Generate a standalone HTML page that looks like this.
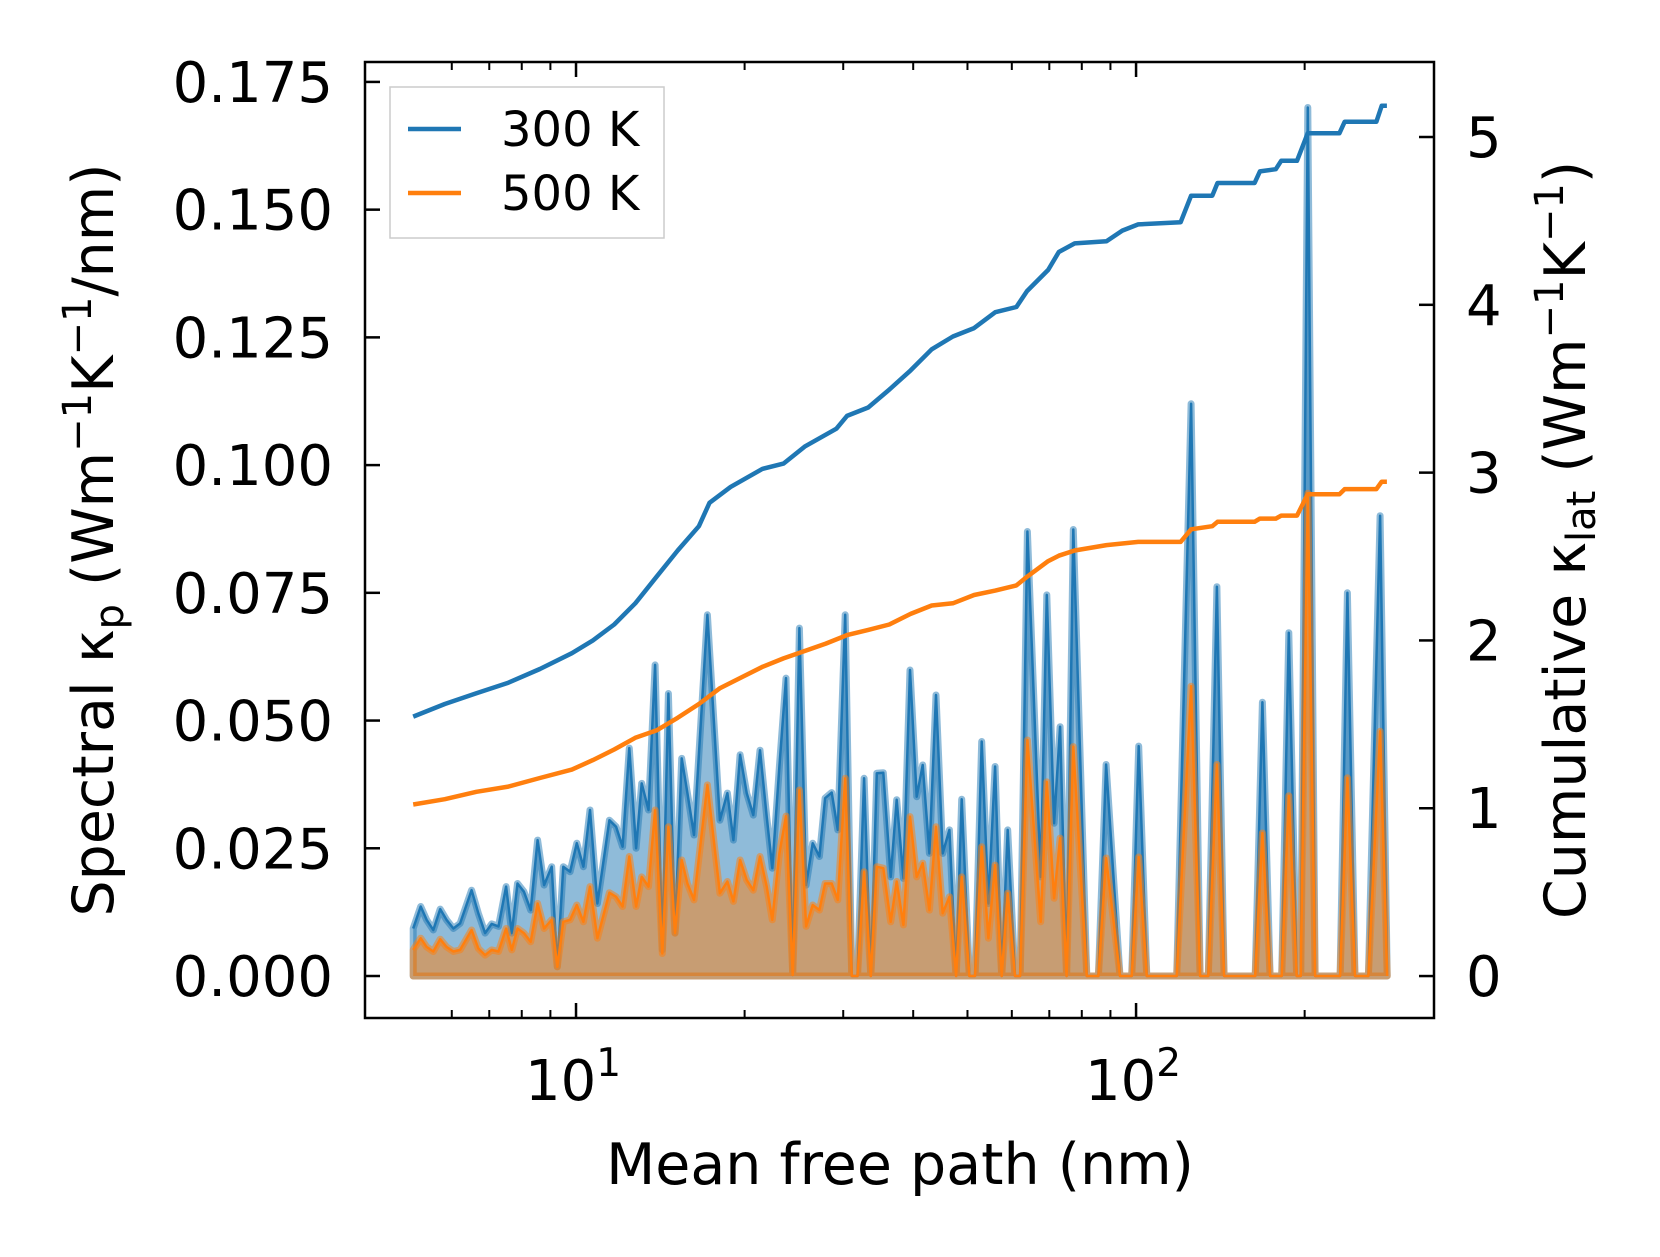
<!DOCTYPE html>
<html><head><meta charset="utf-8"><style>
html,body{margin:0;padding:0;background:#fff;}
svg{display:block;font-family:"DejaVu Sans","Liberation Sans",sans-serif;}
</style></head><body>
<svg id="chart" width="1660" height="1257" viewBox="0 0 1660 1257" xmlns="http://www.w3.org/2000/svg">
<g id="plot"></g>
<g id="axes"></g>
</svg>
<script>
// ---- data ----
const mfp = [5.12,5.28,5.41,5.56,5.72,5.87,6.04,6.21,6.51,6.69,6.88,7.07,7.27,7.50,7.68,7.86,8.07,8.30,8.54,8.77,9.05,9.26,9.49,9.76,10.03,10.31,10.59,10.92,11.47,11.79,12.11,12.45,12.80,13.10,13.47,13.84,14.26,14.62,15.02,15.44,15.81,16.24,17.16,18.07,18.63,19.10,19.63,
20.17,20.73,21.31,21.90,22.41,23.08,23.71,24.37,25.05,25.75,26.46,27.20,27.84,28.61,29.34,30.24,31.08,31.81,32.69,33.60,34.44,35.38,36.47,37.38,38.42,39.48,40.58,41.59,42.75,43.93,45.15,46.42,47.71,48.83,50.39,51.58,53.01,54.50,56.01,57.55,58.99,60.80,62.07,63.96,67.57,69.27,71.39,73.17,75.16,77.25,81.66,
85.66,88.41,93.62,98.24,101.1,104.5,118.2,125.4,130.1,134.6,139.4,143.6,163.2,168.1,173.5,182.0,187.4,193.6,196.8,202.6,208.8,231.4,238.4,246.0,259.9,272.8,280.8];
const spec300 = [0.0093,0.0136,0.0110,0.0090,0.0131,0.0110,0.0093,0.0103,0.0168,0.0123,0.0084,0.0102,0.0097,0.0175,0.0084,0.0181,0.0165,0.0129,0.0266,0.0178,0.0214,0.0018,0.0214,0.0204,0.0260,0.0214,0.0325,0.0142,0.0305,0.0292,0.0253,0.0446,0.0250,0.0377,0.0325,0.0609,0.0051,0.0553,0.0084,0.0426,0.0358,0.0276,0.0707,0.0305,0.0358,0.0266,0.0433,
0.0358,0.0315,0.0442,0.0312,0.0211,0.0410,0.0583,0.0002,0.0681,0.0178,0.0260,0.0234,0.0348,0.0359,0.0286,0.0707,0,0,0.0387,0,0.0397,0.0398,0.0194,0.0345,0.0191,0.0599,0.0351,0.0413,0.0240,0.0550,0.0240,0.0286,0,0.0346,0,0,0.0459,0.0142,0.0410,0,0.0286,0,0,0.0870,0.0194,0.0746,0.0299,0.0488,0,0.0874,0,
0,0.0414,0,0,0.0450,0,0,0.1120,0,0,0.0762,0,0,0.0536,0,0,0.0672,0,0,0.1700,0,0,0.0750,0,0,0.0901,0];
const spec500 = [0.0051,0.0074,0.0057,0.0048,0.0072,0.0057,0.0048,0.0051,0.0090,0.0054,0.0041,0.0051,0.0048,0.0093,0.0051,0.0093,0.0084,0.0067,0.0142,0.0093,0.0110,0.0018,0.0106,0.0110,0.0139,0.0106,0.0175,0.0074,0.0163,0.0155,0.0136,0.0234,0.0136,0.0194,0.0175,0.0325,0.0044,0.0292,0.0084,0.0227,0.0181,0.0149,0.0374,0.0162,0.0185,0.0146,0.0227,
0.0188,0.0168,0.0234,0.0175,0.0110,0.0240,0.0313,0.0002,0.0364,0.0097,0.0139,0.0129,0.0181,0.0181,0.0149,0.0387,0,0,0.0204,0,0.0214,0.0211,0.0106,0.0185,0.0100,0.0312,0.0194,0.0221,0.0129,0.0292,0.0123,0.0155,0,0.0194,0,0,0.0253,0.0074,0.0217,0,0.0162,0,0,0.0462,0.0106,0.0380,0.0152,0.0270,0,0.0449,0,
0,0.0231,0,0,0.0233,0,0,0.0567,0,0,0.0414,0,0,0.0280,0,0,0.0353,0,0,0.0945,0,0,0.0388,0,0,0.0479,0];
const cumMfp300 = [5.12,5.83,6.64,7.57,8.62,9.83,10.72,11.70,12.76,13.92,15.19,16.57,17.31,18.88,21.51,23.47,25.60,29.17,30.47,33.24,36.26,39.57,43.17,47.10,51.38,56.06,61.15,63.87,69.67,72.78,77.70,88.54,94.50,100.9,120.1,125.4,136.8,139.8,162.8,166.4,177.6,181.6,193.8,202.5,230.7,235.8,268.6,274.5,280.5];
const cum300 = [1.546,1.621,1.685,1.748,1.830,1.924,2.000,2.095,2.221,2.379,2.536,2.681,2.820,2.915,3.022,3.054,3.155,3.262,3.338,3.388,3.495,3.609,3.735,3.811,3.861,3.956,3.987,4.082,4.208,4.315,4.366,4.379,4.442,4.479,4.492,4.650,4.650,4.726,4.726,4.795,4.808,4.858,4.858,5.022,5.022,5.091,5.091,5.186,5.186];
const cumMfp500 = [5.12,5.83,6.64,7.57,8.62,9.83,10.72,11.70,12.76,13.92,15.19,16.57,18.08,19.72,21.51,23.47,25.60,27.93,30.47,33.24,36.26,39.57,43.17,47.10,51.38,56.06,61.15,63.87,69.67,72.78,77.70,88.54,100.9,120.1,125.4,136.8,139.8,162.8,166.4,177.6,181.6,193.8,202.5,230.7,235.8,268.6,274.5,280.5];
const cum500 = [1.022,1.054,1.098,1.129,1.180,1.230,1.287,1.350,1.420,1.464,1.539,1.621,1.716,1.779,1.842,1.893,1.937,1.981,2.032,2.063,2.095,2.158,2.208,2.221,2.271,2.297,2.328,2.379,2.473,2.505,2.536,2.568,2.587,2.587,2.662,2.681,2.707,2.707,2.726,2.726,2.744,2.744,2.871,2.871,2.902,2.902,2.946,2.946];
const leftTicks = [0,0.025,0.05,0.075,0.1,0.125,0.15,0.175];
const leftTickLabels = ["0.000","0.025","0.050","0.075","0.100","0.125","0.150","0.175"];
const rightTicks = [0,1,2,3,4,5];
const xMajor = [10,100];
const xMinor = [6,7,8,9,20,30,40,50,60,70,80,90,200];

// ---- axes geometry ----
const L=365,R=1434,T=62,B=1018;
const xLogMin=0.6232,xLogMax=2.532;
const yLMin=-0.00822,yLMax=0.1789;
const yRMin=-0.25,yRMax=5.447;
const sx=v=>L+(Math.log10(v)-xLogMin)/(xLogMax-xLogMin)*(R-L);
const syL=v=>B-(v-yLMin)/(yLMax-yLMin)*(B-T);
const syR=v=>B-(v-yRMin)/(yRMax-yRMin)*(B-T);
const NS="http://www.w3.org/2000/svg";
const plot=document.getElementById('plot'),axes=document.getElementById('axes');
function mk(tag,attrs,parent){const e=document.createElementNS(NS,tag);for(const k in attrs)e.setAttribute(k,attrs[k]);parent.appendChild(e);return e;}

function area(xs,ys,color,name){
  let d='M'+sx(xs[0]).toFixed(1)+','+syL(0).toFixed(1);
  xs.forEach((x,i)=>{d+='L'+sx(x).toFixed(1)+','+syL(ys[i]).toFixed(1);});
  d+='L'+sx(xs[xs.length-1]).toFixed(1)+','+syL(0).toFixed(1)+'Z';
  const p=mk('path',{d:d,fill:color,'fill-opacity':0.5,stroke:color,'stroke-opacity':0.5,'stroke-width':7,'stroke-linejoin':'round'},plot);
  
  
  const pts=xs.map((x,i)=>sx(x).toFixed(1)+','+syL(ys[i]).toFixed(1)).join(' ');
  const l=mk('polyline',{points:pts,fill:'none',stroke:color,'stroke-width':2.5,'stroke-linejoin':'round'},plot);
  
  
}
area(mfp,spec300,'#1f77b4','spectral-300k');
area(mfp,spec500,'#ff7f0e','spectral-500k');
function cumLine(xs,ys,color,name){
  const pts=xs.map((x,i)=>sx(x).toFixed(1)+','+syR(ys[i]).toFixed(1)).join(' ');
  const l=mk('polyline',{points:pts,fill:'none',stroke:color,'stroke-width':4.5,'stroke-linejoin':'round'},plot);
  
  
}
cumLine(cumMfp300,cum300,'#1f77b4','cumulative-300k');
cumLine(cumMfp500,cum500,'#ff7f0e','cumulative-500k');

// frame
const fr=mk('rect',{x:L,y:T,width:R-L,height:B-T,fill:'none',stroke:'#000','stroke-width':2.5},axes);


// x ticks
xMajor.forEach((v,i)=>{const x=sx(v);
  mk('line',{x1:x,y1:B,x2:x,y2:B-15,stroke:'#000','stroke-width':2.5},axes);
  mk('line',{x1:x,y1:T,x2:x,y2:T+15,stroke:'#000','stroke-width':2.5},axes);
  const t=mk('text',{x:x-3,y:1100,'font-size':56,'text-anchor':'middle'},axes);
  
  
  t.innerHTML='10<tspan dy="-24" font-size="39">'+(i+1)+'</tspan>';
});
xMinor.forEach(v=>{const x=sx(v);
  mk('line',{x1:x,y1:B,x2:x,y2:B-8,stroke:'#000','stroke-width':2},axes);
  mk('line',{x1:x,y1:T,x2:x,y2:T+8,stroke:'#000','stroke-width':2},axes);
});
leftTicks.forEach((v,i)=>{const y=syL(v);
  mk('line',{x1:L,y1:y,x2:L+15,y2:y,stroke:'#000','stroke-width':2.5},axes);
  const t=mk('text',{x:333,y:y+20,'font-size':56,'text-anchor':'end'},axes);
  
  
  t.textContent=leftTickLabels[i];
});
rightTicks.forEach(v=>{const y=syR(v);
  mk('line',{x1:R,y1:y,x2:R-15,y2:y,stroke:'#000','stroke-width':2.5},axes);
  const t=mk('text',{x:1466,y:y+20,'font-size':56,'text-anchor':'start'},axes);
  
  
  t.textContent=String(v);
});
</script>
<svg style="position:absolute;left:0;top:0" width="1660" height="1257" xmlns="http://www.w3.org/2000/svg" font-family="DejaVu Sans, Liberation Sans, sans-serif">
<text x="900" y="1184" font-size="57" text-anchor="middle">Mean free path (nm)</text>
<text transform="translate(113,540) rotate(-90)" font-size="57" text-anchor="middle">Spectral κ<tspan font-size="40" dy="10">p</tspan><tspan dy="-10"> (Wm</tspan><tspan font-size="40" dy="-22">−1</tspan><tspan dy="22">K</tspan><tspan font-size="40" dy="-22">−1</tspan><tspan dy="22">/nm)</tspan></text>
<text transform="translate(1585,540) rotate(-90)" font-size="57" text-anchor="middle">Cumulative κ<tspan font-size="40" dy="10">lat</tspan><tspan dy="-10"> (Wm</tspan><tspan font-size="40" dy="-22">−1</tspan><tspan dy="22">K</tspan><tspan font-size="40" dy="-22">−1</tspan><tspan dy="22">)</tspan></text>
<g>
<rect x="390" y="87" width="274" height="151" fill="#fff" fill-opacity="0.8" stroke="#ccc" stroke-width="1.5"/>
<line x1="408" y1="129" x2="461" y2="129" stroke="#1f77b4" stroke-width="4.5"/>
<text x="501" y="146" font-size="48">300 K</text>
<line x1="408" y1="193" x2="461" y2="193" stroke="#ff7f0e" stroke-width="4.5"/>
<text x="501" y="210" font-size="48">500 K</text>
</g>
</svg>
</body></html>
